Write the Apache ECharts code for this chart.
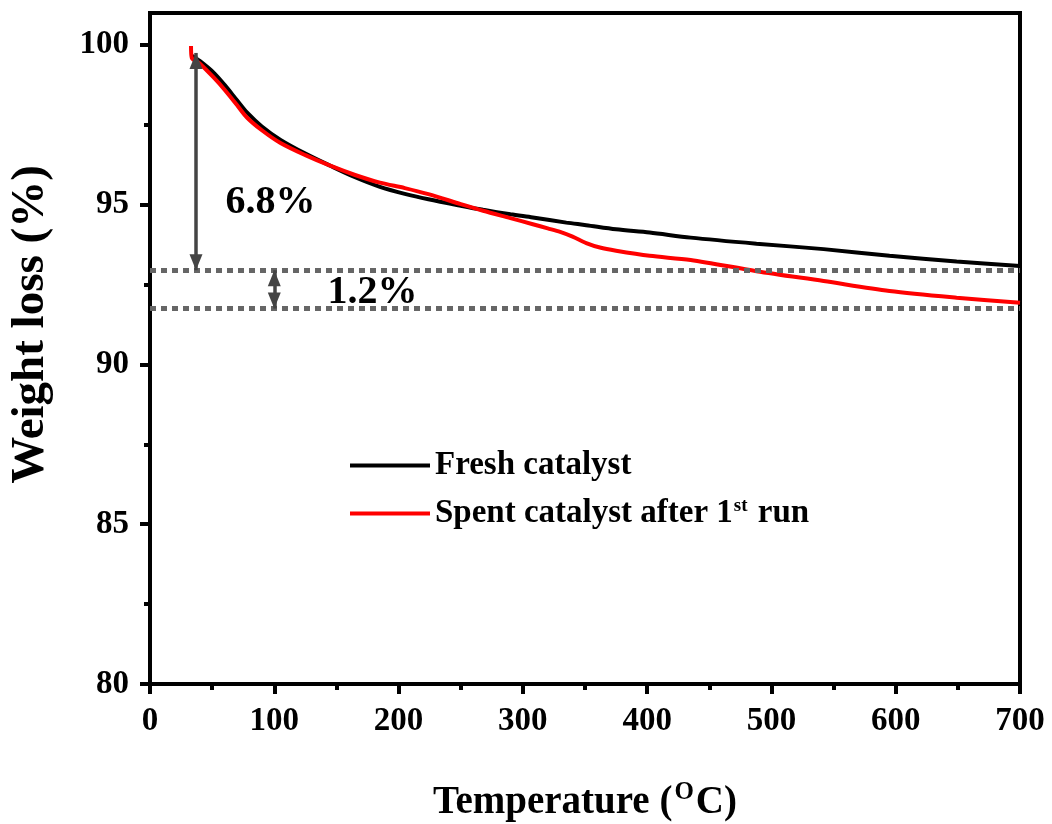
<!DOCTYPE html>
<html>
<head>
<meta charset="utf-8">
<title>TGA curves</title>
<script src="https://cdn.jsdelivr.net/npm/echarts@6/dist/echarts.min.js"></script>
<style>
  html, body { margin: 0; padding: 0; background: #fff; }
  #chart { width: 1052px; height: 824px; }
</style>
</head>
<body>
<div id="chart"></div>
<script>
// TGA weight curves (temperature in °C, remaining weight in %)
const tempFresh = [34, 40, 51, 60, 70, 78, 90, 105, 125, 145, 165, 185, 205, 224, 250, 268, 290, 308, 335, 351, 375, 402, 435, 488, 542, 595, 649, 700];
const weightFresh = [99.66, 99.5, 99.14, 98.75, 98.27, 97.89, 97.45, 97.03, 96.6, 96.22, 95.86, 95.56, 95.34, 95.17, 94.97, 94.84, 94.7, 94.6, 94.44, 94.36, 94.23, 94.13, 93.97, 93.78, 93.61, 93.4, 93.22, 93.08];

const tempSpent = [33, 33.6, 40, 51, 60, 70, 78, 90, 105, 125, 145, 165, 185, 205, 224, 250, 268, 290, 308, 320, 330, 340, 351, 362, 375, 402, 435, 488, 542, 595, 649, 700];
const weightSpent = [99.97, 99.6, 99.42, 98.99, 98.6, 98.12, 97.73, 97.33, 96.93, 96.55, 96.22, 95.93, 95.69, 95.52, 95.33, 95.02, 94.81, 94.58, 94.39, 94.26, 94.15, 94.0, 93.8, 93.66, 93.56, 93.4, 93.27, 92.92, 92.61, 92.3, 92.09, 91.93];

// Axis ticks
const xMajorTicks = [0, 100, 200, 300, 400, 500, 600, 700];
const xMinorTicks = [50, 150, 250, 350, 450, 550, 650];
const yMajorTicks = [80, 85, 90, 95, 100];
const yMinorTicks = [82.5, 87.5, 92.5, 97.5];

// Weight-loss annotations
const residueLevel = 92.95;   // upper dotted level
const lossFresh = 6.8;        // first arrow span (%)
const lossExtra = 1.2;        // second arrow span (%)
const arrowTempMain = 37;
const arrowTempExtra = 100;
const labelMain = { text: '6.8%', temp: 97, weight: 95.05 };
const labelExtra = { text: '1.2%', temp: 179, weight: 92.25 };

const seriesNames = ['Fresh catalyst', 'Spent catalyst after 1st run'];

const SERIF = "'Liberation Serif', 'Times New Roman', serif";
const pairs = (xs, ys) => xs.map((x, i) => [x, ys[i]]);

const lowerLevel = residueLevel - lossExtra;
const arrowTop = residueLevel + lossFresh;
const annotationColor = '#444444';

const chart = echarts.init(document.getElementById('chart'), null, { renderer: 'canvas' });

const option = {
  animation: false,
  backgroundColor: '#ffffff',
  grid: {
    left: 150, right: 32, top: 13, bottom: 140,
    outerBoundsMode: 'none',
    containLabel: false,
    show: true, borderColor: '#000', borderWidth: 4, backgroundColor: 'transparent'
  },
  legend: {
    data: seriesNames,
    orient: 'vertical',
    left: 345,
    top: 444,
    itemWidth: 80,
    itemHeight: 4,
    itemGap: 15,
    icon: 'rect',
    formatter: function (name) {
      if (name === seriesNames[1]) {
        return '{t|Spent catalyst after 1}{s|st}{t| run}';
      }
      return '{t|' + name + '}';
    },
    textStyle: {
      fontFamily: SERIF,
      fontWeight: 'bold',
      color: '#000',
      rich: {
        t: { fontFamily: SERIF, fontWeight: 'bold', fontSize: 33, color: '#000', lineHeight: 33 },
        s: { fontFamily: SERIF, fontWeight: 'bold', fontSize: 19, color: '#000', verticalAlign: 'top', lineHeight: 33, padding: [0, 2, 0, 1] }
      }
    }
  },
  xAxis: [
    {
      type: 'value', min: 0, max: 700,
      name: '{t|Temperature (}{s|O}{t|C)}',
      nameLocation: 'middle',
      nameGap: 96,
      nameTextStyle: {
        rich: {
          t: { fontFamily: SERIF, fontWeight: 'bold', fontSize: 39, color: '#000', lineHeight: 46 },
          s: { fontFamily: SERIF, fontWeight: 'bold', fontSize: 25, color: '#000', verticalAlign: 'top', lineHeight: 46, padding: [0, 2, 0, 2] }
        }
      },
      axisLine: { show: true, lineStyle: { color: '#000', width: 4 } },
      axisTick: { show: true, inside: false, length: 10, customValues: xMajorTicks, lineStyle: { color: '#000', width: 4 } },
      axisLabel: { show: true, customValues: xMajorTicks, margin: 21, fontFamily: SERIF, fontWeight: 'bold', fontSize: 33, color: '#000' },
      splitLine: { show: false }
    },
    {
      type: 'value', min: 0, max: 700, position: 'bottom',
      axisLine: { show: false },
      axisTick: { show: true, inside: false, length: 6, customValues: xMinorTicks, lineStyle: { color: '#000', width: 4 } },
      axisLabel: { show: false },
      splitLine: { show: false }
    }
  ],
  yAxis: [
    {
      type: 'value', min: 80, max: 101,
      name: 'Weight loss (%)',
      nameLocation: 'middle',
      nameGap: 96,
      nameTextStyle: { fontFamily: SERIF, fontWeight: 'bold', fontSize: 47, color: '#000', padding: [0, 0, 0, 48] },
      axisLine: { show: true, lineStyle: { color: '#000', width: 4 } },
      axisTick: { show: true, inside: false, length: 10, customValues: yMajorTicks, lineStyle: { color: '#000', width: 4 } },
      axisLabel: { show: true, customValues: yMajorTicks, margin: 21, fontFamily: SERIF, fontWeight: 'bold', fontSize: 33, color: '#000' },
      splitLine: { show: false }
    },
    {
      type: 'value', min: 80, max: 101, position: 'left',
      axisLine: { show: false },
      axisTick: { show: true, inside: false, length: 6, customValues: yMinorTicks, lineStyle: { color: '#000', width: 4 } },
      axisLabel: { show: false },
      splitLine: { show: false }
    }
  ],
  series: [
    {
      name: 'levels',
      type: 'line',
      data: [],
      silent: true,
      markLine: {
        silent: true,
        symbol: ['none', 'none'],
        label: { show: false },
        lineStyle: { type: [6, 5], width: 5, color: '#666666', cap: 'butt' },
        emphasis: { disabled: true },
        data: [{ yAxis: residueLevel }, { yAxis: lowerLevel }]
      }
    },
    {
      name: seriesNames[0],
      type: 'line',
      data: pairs(tempFresh, weightFresh),
      showSymbol: false,
      symbol: 'none',
      smooth: 0.3,
      lineStyle: { color: '#000000', width: 4 },
      itemStyle: { color: '#000000' },
      z: 3
    },
    {
      name: seriesNames[1],
      type: 'line',
      data: pairs(tempSpent, weightSpent),
      showSymbol: false,
      symbol: 'none',
      smooth: 0.3,
      lineStyle: { color: '#ff0000', width: 4 },
      itemStyle: { color: '#ff0000' },
      z: 4
    },
    {
      name: 'arrows',
      type: 'line',
      data: [],
      silent: true,
      z: 5,
      markLine: {
        silent: true,
        symbol: ['triangle', 'triangle'],
        symbolSize: [13, 16],
        symbolOffset: [[0, 8], [0, 8]],
        label: { show: false },
        lineStyle: { type: 'solid', width: 3.5, color: annotationColor },
        itemStyle: { color: annotationColor },
        emphasis: { disabled: true },
        data: [
          [{ coord: [arrowTempMain, arrowTop] }, { coord: [arrowTempMain, residueLevel] }],
          [{ coord: [arrowTempExtra, residueLevel] }, { coord: [arrowTempExtra, lowerLevel] }]
        ]
      },
      markPoint: {
        silent: true,
        symbol: 'circle',
        symbolSize: 0,
        label: {
          show: true,
          position: 'inside',
          fontFamily: SERIF,
          fontWeight: 'bold',
          fontSize: 40,
          color: '#000',
          formatter: function (p) { return p.name; }
        },
        data: [
          { name: labelMain.text, coord: [labelMain.temp, labelMain.weight] },
          { name: labelExtra.text, coord: [labelExtra.temp, labelExtra.weight] }
        ]
      }
    }
  ]
};

chart.setOption(option);
</script>
</body>
</html>
